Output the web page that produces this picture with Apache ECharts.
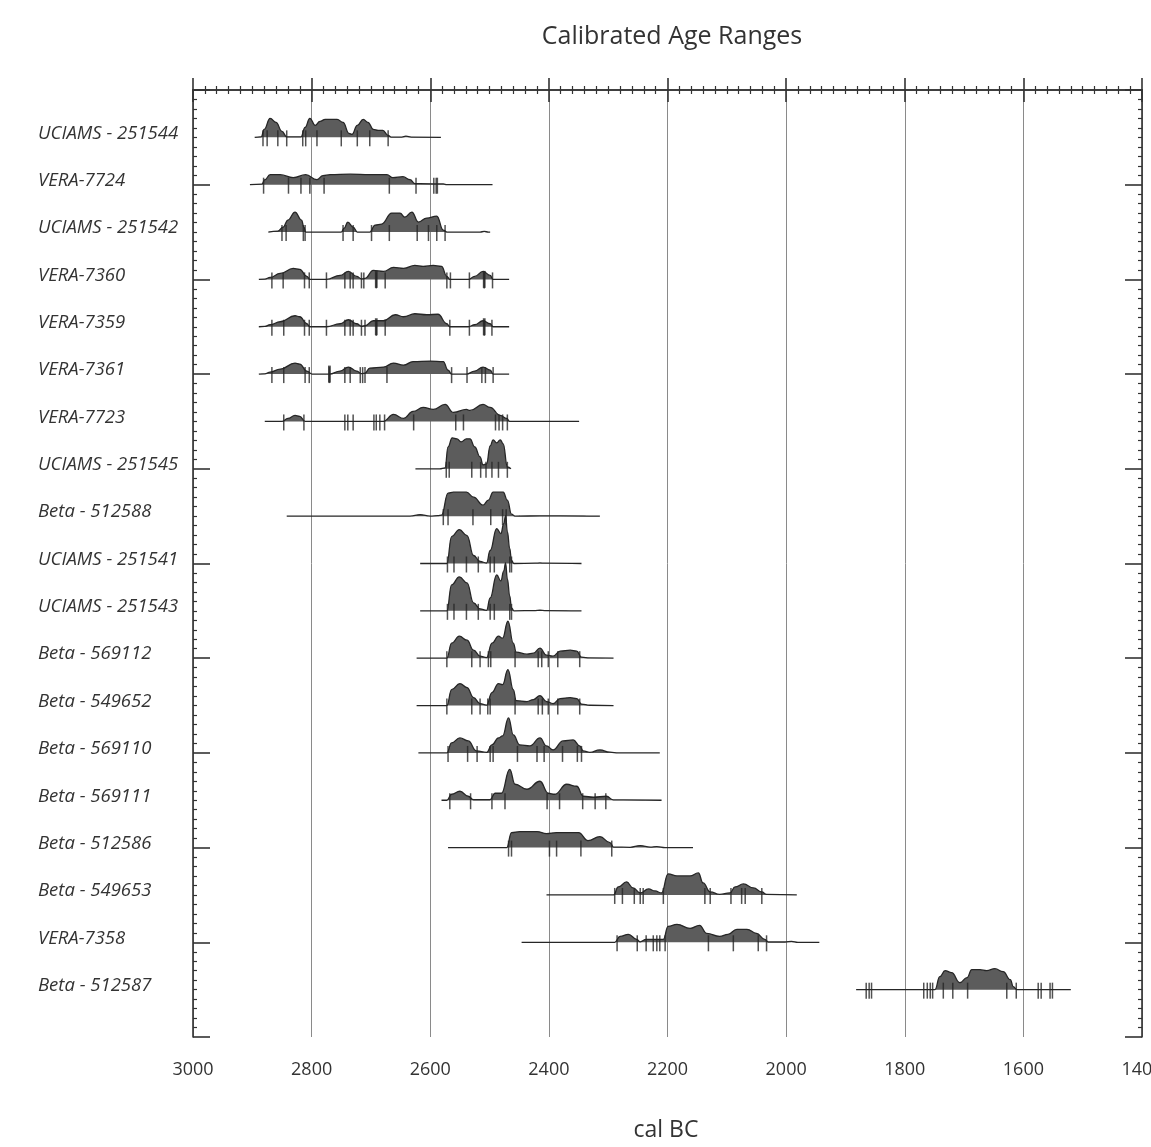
<!DOCTYPE html>
<html><head><meta charset="utf-8">
<script src="https://cdn.jsdelivr.net/npm/echarts@6/dist/echarts.min.js"></script>
<style>html,body{margin:0;padding:0;background:#fff}#c{width:1151px;height:1147px}</style>
</head><body><div id="c"></div>
<script>
// ---------- DATA ----------
const chartTitle = 'Calibrated Age Ranges';
const xAxisTitle = 'cal BC';
const xTicks = [3000, 2800, 2600, 2400, 2200, 2000, 1800, 1600, 1400];
const sampleLabels = [
  'UCIAMS - 251544', 'VERA-7724', 'UCIAMS - 251542', 'VERA-7360', 'VERA-7359',
  'VERA-7361', 'VERA-7723', 'UCIAMS - 251545', 'Beta - 512588', 'UCIAMS - 251541',
  'UCIAMS - 251543', 'Beta - 569112', 'Beta - 549652', 'Beta - 569110', 'Beta - 569111',
  'Beta - 512586', 'Beta - 549653', 'VERA-7358', 'Beta - 512587'
];
// probability densities: [cal BC year, relative density]
const dens_UCIAMS_251544 = [[2896,0],[2885,0.5],[2880,8],[2870,19],[2860,15],[2850,6],[2842,0.5],[2818,0.5],[2811,10],[2803,19],[2794,12],[2786,16],[2777,18],[2757,18],[2747,15],[2737,4],[2732,3],[2723,12],[2713,18],[2705,15],[2696,8],[2688,7],[2680,7],[2671,2],[2666,0.3],[2648,0.3],[2641,1.2],[2632,0.3],[2582,0]];
const dens_VERA_7724 = [[2904,0],[2884,0.5],[2879,5],[2870,10],[2853,10],[2831,7],[2810,10],[2791,5],[2781,9],[2769,10],[2735,10.5],[2702,10],[2673,10],[2663,7],[2646,8],[2634,5],[2626,1],[2617,1],[2578,0.8],[2572,0],[2495,0]];
const dens_UCIAMS_251542 = [[2873,0],[2857,1],[2848,5],[2840,12],[2828,20],[2817,12],[2813,5],[2810,0],[2750,0],[2745,4],[2739,10],[2730,5],[2723,0],[2702,0],[2693,7],[2682,8],[2665,19],[2651,19],[2643,15],[2631,20],[2620,10],[2606,14],[2589,16],[2578,2],[2572,0],[2516,0],[2509,0.6],[2502,0],[2499,0]];
const dens_VERA_7360 = [[2889,0],[2879,0.3],[2870,2],[2853,6],[2831,11],[2820,10],[2808,3],[2803,0],[2775,0],[2752,4],[2738,8],[2724,3],[2716,0.5],[2710,1],[2696,9],[2679,8],[2662,12],[2645,11],[2626,14],[2612,13],[2595,14],[2581,13],[2572,3],[2567,0],[2536,0],[2525,3],[2511,8],[2499,4],[2494,0],[2467,0]];
const dens_VERA_7359 = [[2889,0],[2879,0.3],[2870,2],[2853,5],[2828,11],[2820,10],[2808,3],[2803,0],[2775,0],[2752,3],[2738,7],[2724,3],[2716,0.5],[2710,1],[2696,6],[2679,6],[2659,12],[2645,10],[2626,13],[2606,12],[2587,12.5],[2572,3],[2567,0],[2536,0],[2525,2],[2511,6],[2499,3],[2494,0],[2467,0]];
const dens_VERA_7361 = [[2889,0],[2879,0.3],[2870,2],[2853,5],[2828,11],[2820,10],[2808,3],[2799,0],[2770,0],[2752,3],[2738,7],[2724,3],[2716,0.5],[2710,1],[2702,6],[2679,7],[2662,11],[2645,9],[2629,12.5],[2600,13],[2578,12.5],[2570,4],[2564,0],[2539,0],[2525,3],[2511,7],[2499,4],[2494,0],[2467,0]];
const dens_VERA_7723 = [[2879,0],[2850,0],[2840,3],[2828,6],[2820,5],[2811,0],[2679,0],[2662,7],[2645,3],[2629,10],[2612,14],[2595,12],[2575,17],[2561,9],[2539,12],[2533,11],[2511,17],[2499,14],[2482,6],[2471,3],[2466,0],[2349,0]];
const dens_UCIAMS_251545 = [[2625,0],[2584,0],[2575,1],[2570,22],[2563,31],[2555,30],[2548,27],[2539,30],[2533,30],[2525,22],[2516,12],[2511,4],[2505,5],[2499,23],[2494,29],[2488,26],[2482,29],[2477,25],[2470,2],[2464,0]];
const dens_Beta_512588 = [[2842,0],[2634,0],[2617,1.5],[2600,0],[2587,0.5],[2581,1],[2570,23],[2561,24],[2539,24],[2527,19],[2511,11],[2502,16],[2494,24],[2477,24],[2470,16],[2463,2],[2457,0],[2415,0.3],[2380,0.3],[2314,0]];
const dens_UCIAMS_251541 = [[2617,0],[2572,0],[2564,27],[2551,34],[2538,28],[2527,8],[2516,2],[2505,0.5],[2499,13],[2488,35],[2481,30],[2476,40],[2473,48],[2470,32],[2466,15],[2463,3],[2459,0],[2423,0.3],[2415,0.6],[2407,0.3],[2345,0]];
const dens_UCIAMS_251543 = [[2617,0],[2572,0],[2564,26],[2551,34],[2538,28],[2527,8],[2516,2],[2505,0.5],[2499,13],[2488,36],[2481,30],[2476,40],[2473,48],[2470,32],[2466,15],[2463,3],[2459,0],[2423,0.3],[2415,0.6],[2407,0.3],[2345,0]];
const dens_Beta_569112 = [[2623,0],[2572,0],[2564,15],[2551,22],[2538,18],[2527,8],[2516,2],[2505,0.5],[2496,15],[2485,22],[2478,20],[2469,37],[2460,15],[2455,6],[2437,4],[2426,5],[2415,10],[2404,3],[2393,2],[2381,7],[2364,8],[2353,7],[2345,1],[2331,0.3],[2291,0]];
const dens_Beta_549652 = [[2623,0],[2572,0],[2564,16],[2550,22],[2538,18],[2527,8],[2516,2],[2505,0.5],[2496,13],[2485,22],[2478,21],[2469,36],[2460,16],[2455,5],[2437,4],[2426,6],[2415,10],[2404,4],[2393,2],[2381,7],[2364,8],[2353,7],[2345,1.5],[2331,0.3],[2291,0]];
const dens_Beta_569110 = [[2620,0],[2572,0],[2564,10],[2550,15],[2536,12],[2522,2],[2505,0.5],[2496,8],[2485,15],[2478,17],[2468,35],[2460,18],[2449,8],[2432,7],[2415,15],[2404,7],[2393,3],[2376,12],[2359,13],[2348,7],[2342,2],[2331,0.5],[2314,3],[2297,0.7],[2283,0],[2213,0]];
const dens_Beta_569111 = [[2581,0],[2572,0],[2564,6],[2550,9],[2536,4],[2527,0.5],[2499,0.5],[2491,7],[2480,7],[2466,31],[2457,16],[2437,11],[2415,19],[2401,7],[2390,6],[2370,16],[2353,14],[2342,4],[2325,3],[2303,4],[2291,0.3],[2210,0]];
const dens_Beta_512586 = [[2570,0],[2471,0],[2463,15],[2449,16],[2420,16],[2404,14],[2387,15],[2370,15],[2350,15],[2334,7],[2314,11],[2297,5],[2291,0.5],[2263,0.3],[2246,2],[2229,0.5],[2218,1],[2204,0],[2157,0]];
const dens_Beta_549653 = [[2404,0],[2291,0],[2283,8],[2269,13],[2258,7],[2246,2],[2232,6],[2221,4],[2210,2],[2199,21],[2184,19],[2162,19],[2148,22],[2140,12],[2128,3],[2112,0.5],[2095,2],[2086,8],[2072,11],[2055,7],[2041,3],[2033,0.5],[1982,0]];
const dens_VERA_7358 = [[2446,0],[2289,0],[2280,6],[2266,8],[2252,3],[2246,0.5],[2236,3],[2218,3],[2207,3],[2199,16],[2184,18],[2162,14],[2146,17],[2134,9],[2112,6],[2098,8],[2083,13],[2066,13],[2050,9],[2036,3],[2030,0.3],[2002,0.3],[1991,1],[1980,0],[1944,0]];
const dens_Beta_512587 = [[1882,0],[1749,0],[1741,13],[1732,19],[1721,17],[1707,7],[1695,12],[1687,20],[1673,20],[1662,19],[1648,21],[1634,18],[1622,10],[1617,3],[1611,0],[1520,0]];

// range boundary marks (cal BC)
const marks_UCIAMS_251544 = [2882,2875,2857,2842,2815,2810,2791,2750,2723,2702,2671];
const marks_VERA_7724 = [2881,2839,2818,2803,2779,2669,2624,2594,2590,2588];
const marks_UCIAMS_251542 = [2850,2843,2814,2811,2747,2730,2699,2669,2622,2603,2589,2575];
const marks_VERA_7360 = [2867,2848,2812,2804,2775,2744,2735,2730,2716,2712,2691,2676,2572,2566,2534,2509,2495];
const marks_VERA_7359 = [2867,2847,2812,2804,2775,2744,2735,2730,2716,2710,2691,2676,2567,2534,2509,2496];
const marks_VERA_7361 = [2867,2847,2811,2804,2770,2744,2735,2718,2714,2710,2673,2564,2538,2513,2507,2494];
const marks_VERA_7723 = [2847,2813,2744,2739,2730,2695,2691,2685,2677,2628,2557,2544,2490,2484,2478,2470];
const marks_UCIAMS_251545 = [2573,2568,2530,2515,2506,2496,2485,2470];
const marks_Beta_512588 = [2578,2570,2528,2498,2478,2472];
const marks_UCIAMS_251541 = [2571,2560,2539,2519,2499,2492,2466,2463];
const marks_UCIAMS_251543 = [2571,2560,2539,2519,2499,2492,2466,2463];
const marks_Beta_569112 = [2572,2530,2516,2502,2498,2457,2418,2412,2401,2385,2348];
const marks_Beta_549652 = [2572,2530,2516,2503,2499,2457,2418,2411,2401,2385,2348];
const marks_Beta_569110 = [2570,2537,2521,2499,2494,2453,2420,2408,2377,2352,2345];
const marks_Beta_569111 = [2567,2532,2496,2474,2403,2382,2343,2322,2304];
const marks_Beta_512586 = [2468,2463,2399,2387,2346,2294];
const marks_Beta_549653 = [2289,2276,2256,2246,2241,2207,2137,2128,2093,2075,2069,2041];
const marks_VERA_7358 = [2285,2251,2236,2224,2218,2213,2204,2131,2089,2047,2033];
const marks_Beta_512587 = [1865,1860,1856,1768,1762,1757,1753,1735,1719,1694,1628,1612,1575,1570,1555,1551];
// heavier marks: [row index (1-based), year]
const boldMarks = [[4,2691],[4,2509],[5,2691],[5,2509],[6,2770]];

// ---------- BUILD ----------
const densities = [dens_UCIAMS_251544, dens_VERA_7724, dens_UCIAMS_251542, dens_VERA_7360, dens_VERA_7359,
  dens_VERA_7361, dens_VERA_7723, dens_UCIAMS_251545, dens_Beta_512588, dens_UCIAMS_251541,
  dens_UCIAMS_251543, dens_Beta_569112, dens_Beta_549652, dens_Beta_569110, dens_Beta_569111,
  dens_Beta_512586, dens_Beta_549653, dens_VERA_7358, dens_Beta_512587];
const marks = [marks_UCIAMS_251544, marks_VERA_7724, marks_UCIAMS_251542, marks_VERA_7360, marks_VERA_7359,
  marks_VERA_7361, marks_VERA_7723, marks_UCIAMS_251545, marks_Beta_512588, marks_UCIAMS_251541,
  marks_UCIAMS_251543, marks_Beta_569112, marks_Beta_549652, marks_Beta_569110, marks_Beta_569111,
  marks_Beta_512586, marks_Beta_549653, marks_VERA_7358, marks_Beta_512587];

const DENS_SCALE = 1 / 47.4;     // density unit -> row units
const nRows = sampleLabels.length;
const FONT = '"Open Sans", "Noto Sans", sans-serif';
const INK = '#262626';

const series = [];
densities.forEach((d, i) => {
  const row = i + 1;
  series.push({
    type: 'line', xAxisIndex: 0, yAxisIndex: 0,
    data: d.map(p => [p[0], row - p[1] * DENS_SCALE]),
    smooth: 0.45, smoothMonotone: 'x', showSymbol: false, symbol: 'none',
    lineStyle: { color: INK, width: 1.3 },
    areaStyle: { color: '#5c5c5c', opacity: 1, origin: row },
    silent: true, animation: false, z: 3
  });
});
const tickData = [];
marks.forEach((m, i) => m.forEach(y => tickData.push([y, i + 1])));
series.push({
  type: 'scatter', xAxisIndex: 0, yAxisIndex: 0, data: tickData,
  symbol: 'rect', symbolSize: [1.5, 16], symbolOffset: [0, 1],
  itemStyle: { color: INK }, silent: true, animation: false, z: 5
});
series.push({
  type: 'scatter', xAxisIndex: 0, yAxisIndex: 0,
  data: boldMarks.map(b => [b[1], b[0]]),
  symbol: 'rect', symbolSize: [2.8, 17], symbolOffset: [0, 0],
  itemStyle: { color: INK }, silent: true, animation: false, z: 6
});

const xMin = Math.min(...xTicks), xMax = Math.max(...xTicks);
const xStep = Math.abs(xTicks[0] - xTicks[1]);

const axisLine = { show: true, lineStyle: { color: '#333', width: 1.6 } };
const chart = echarts.init(document.getElementById('c'), null, { renderer: 'canvas' });
chart.setOption({
  backgroundColor: '#ffffff',
  animation: false,
  grid: { left: 193, right: 9, top: 90, bottom: 110, containLabel: false, outerBoundsMode: 'none' },
  graphic: [
    { type: 'text', x: 672, y: 37, style: { text: chartTitle, font: '25px ' + FONT, fill: '#333', align: 'center', verticalAlign: 'middle' } },
    { type: 'text', x: 666, y: 1130, style: { text: xAxisTitle, font: '23px ' + FONT, fill: '#333', align: 'center', verticalAlign: 'middle' } }
  ],
  xAxis: [
    { type: 'value', position: 'bottom', inverse: true, min: xMin, max: xMax, interval: xStep,
      axisLine, axisTick: { show: true, inside: true, length: 12, lineStyle: { color: '#333', width: 1.6 } },
      minorTick: { show: true, splitNumber: 10, length: 4, lineStyle: { color: '#333', width: 1.2 } },
      splitLine: { show: true, lineStyle: { color: '#8a8a8a', width: 1 } },
      axisLabel: { show: true, margin: 24, fontSize: 18, fontFamily: FONT, color: '#333',
        showMinLabel: true, showMaxLabel: true, hideOverlap: false, formatter: v => String(v) } },
    { type: 'value', position: 'top', inverse: true, min: xMin, max: xMax, interval: xStep,
      axisLine, axisTick: { show: true, inside: true, length: 12, lineStyle: { color: '#333', width: 1.6 } },
      minorTick: { show: true, splitNumber: 10, length: 4, lineStyle: { color: '#333', width: 1.2 } },
      splitLine: { show: false }, axisLabel: { show: false } }
  ],
  yAxis: [
    { type: 'value', position: 'left', inverse: true, min: 0, max: nRows + 1, interval: 2,
      axisLine, axisTick: { show: true, inside: true, length: 17, lineStyle: { color: '#333', width: 1.6 } },
      minorTick: { show: true, splitNumber: 10, length: 4, lineStyle: { color: '#333', width: 1.2 } },
      splitLine: { show: false }, axisLabel: { show: false } },
    { type: 'value', position: 'right', inverse: true, min: 0, max: nRows + 1, interval: 2,
      axisLine, axisTick: { show: true, inside: true, length: 17, lineStyle: { color: '#333', width: 1.6 } },
      minorTick: { show: true, splitNumber: 10, length: 4, lineStyle: { color: '#333', width: 1.2 } },
      splitLine: { show: false }, axisLabel: { show: false } },
    { type: 'value', position: 'left', inverse: true, min: 0, max: nRows + 1, interval: 1,
      axisLine: { show: false }, axisTick: { show: false }, splitLine: { show: false },
      axisLabel: { show: true, margin: 155, align: 'left', verticalAlign: 'bottom', lineHeight: 8,
        fontSize: 18.5, fontStyle: 'italic', fontFamily: FONT, color: '#333',
        formatter: v => sampleLabels[Math.round(v) - 1] || '' } }
  ],
  series
});
</script></body></html>
